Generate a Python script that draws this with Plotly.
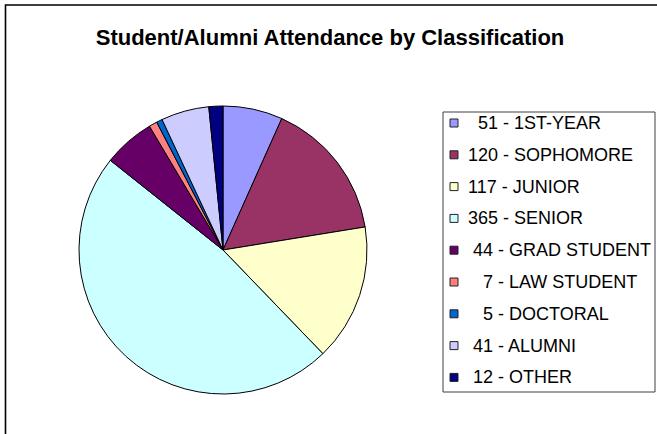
import plotly.graph_objects as go

# ---- data ----
categories = ["1ST-YEAR", "SOPHOMORE", "JUNIOR", "SENIOR", "GRAD STUDENT",
              "LAW STUDENT", "DOCTORAL", "ALUMNI", "OTHER"]
counts = [51, 120, 117, 365, 44, 7, 5, 41, 12]
legend_pad = [2, 0, 0, 0, 1, 3, 3, 1, 1]  # leading spaces as in the original labels
colors = ["#9999FF", "#993366", "#FFFFCC", "#CCFFFF", "#660066",
          "#FF8080", "#0066CC", "#CCCCFF", "#000080"]
title_text = "Student/Alumni Attendance by Classification"

W, H = 657, 434

def px(x):
    return x / W

def py(y):
    return 1 - y / H

labels = [f"{c} - {n}" for c, n in zip(counts, categories)]

# pie geometry (pixels)
cx, cy, r = 223, 250, 144

fig = go.Figure()
fig.add_trace(go.Pie(
    labels=labels,
    values=counts,
    sort=False,
    direction="clockwise",
    rotation=0,
    textinfo="none",
    marker=dict(colors=colors, line=dict(color="black", width=1)),
    domain=dict(x=[px(cx - r), px(cx + r)], y=[py(cy + r), py(cy - r)]),
    showlegend=False,
))

shapes = []
annotations = []

# outer chart border (extends beyond right/bottom edge)
shapes.append(dict(type="rect", xref="paper", yref="paper",
                   x0=px(5.5), x1=1.2, y0=-0.2, y1=py(5),
                   line=dict(color="black", width=1.6), fillcolor="rgba(0,0,0,0)"))

# legend box
lx0, lx1, ly0, ly1 = 443, 655, 112, 392
shapes.append(dict(type="rect", xref="paper", yref="paper",
                   x0=px(lx0), x1=px(lx1), y0=py(ly1), y1=py(ly0),
                   line=dict(color="#404040", width=1), fillcolor="white"))

first_y, step = 123, 31.8
for i, (lab, col, pad) in enumerate(zip(labels, colors, legend_pad)):
    yc = first_y + i * step
    shapes.append(dict(type="rect", xref="paper", yref="paper",
                       x0=px(450), x1=px(458), y0=py(yc + 4), y1=py(yc - 4),
                       line=dict(color="#222222", width=1), fillcolor=col))
    annotations.append(dict(xref="paper", yref="paper", x=px(466), y=py(yc),
                            xanchor="left", yanchor="middle", showarrow=False,
                            text="\u00a0" * pad + lab,
                            font=dict(family="Liberation Sans, Arial", size=18, color="black")))

fig.update_layout(
    width=W, height=H,
    margin=dict(l=0, r=0, t=0, b=0),
    paper_bgcolor="white", plot_bgcolor="white",
    title=dict(text=f"<b>{title_text}</b>", x=px(330), xanchor="center",
               y=py(37), yanchor="middle",
               font=dict(family="Liberation Sans, Arial", size=22, color="black")),
    shapes=shapes,
    annotations=annotations,
)

fig.write_html("out.html", config={"displayModeBar": False},
               post_script="document.body.style.margin='0';document.body.style.overflow='hidden';")
